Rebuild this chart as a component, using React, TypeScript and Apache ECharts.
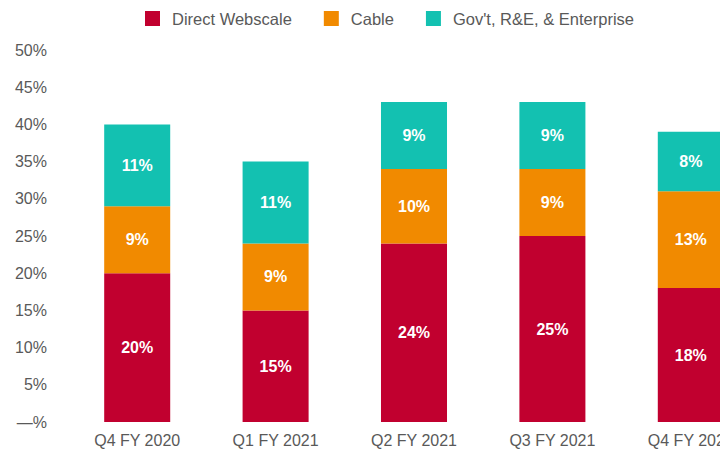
import React, { useEffect, useRef } from "react";
import * as echarts from "echarts";

const categories = ["Q4 FY 2020", "Q1 FY 2021", "Q2 FY 2021", "Q3 FY 2021", "Q4 FY 2021"];
const directWebscale = [20, 15, 24, 25, 18];
const cable = [9, 9, 10, 9, 13];
const govtEnterprise = [11, 11, 9, 9, 8];
const seriesNames = ["Direct Webscale", "Cable", "Gov't, R&E, & Enterprise"];
const colors = ["#C1002F", "#F18A00", "#13C1B1"];

export default function App() {
  const ref = useRef<HTMLDivElement>(null);
  useEffect(() => {
    if (!ref.current) return;
    const chart = echarts.init(ref.current, undefined, { renderer: "svg" });
    const font = "'Liberation Sans', Arial, sans-serif";
    const label = {
      show: true,
      position: "inside",
      color: "#ffffff",
      fontWeight: "bold",
      fontSize: 16,
      fontFamily: font,
      formatter: (p: any) => `${p.value}%`,
    };
    const data = [directWebscale, cable, govtEnterprise];
    chart.setOption({
      animation: false,
      textStyle: { fontFamily: font },
      legend: {
        left: 140,
        top: 5,
        itemWidth: 15,
        itemHeight: 15,
        itemGap: 32,
        icon: "rect",
        textStyle: { color: "#595959", fontSize: 16.5, fontFamily: font, padding: [0, 0, 0, 7] },
        data: seriesNames,
      },
      grid: { left: 68, width: 692, top: 50, bottom: 34, containLabel: false },
      xAxis: {
        type: "category",
        data: categories,
        axisLine: { show: false },
        axisTick: { show: false },
        axisLabel: { color: "#595959", fontSize: 16, margin: 10, fontFamily: font },
      },
      yAxis: {
        type: "value",
        min: 0,
        max: 50,
        interval: 5,
        splitLine: { show: false },
        axisLine: { show: false },
        axisTick: { show: false },
        axisLabel: {
          color: "#595959",
          fontSize: 16,
          margin: 21,
          fontFamily: font,
          formatter: (v: number) => (v === 0 ? "—%" : `${v}%`),
        },
      },
      series: seriesNames.map((name, i) => ({
        name,
        type: "bar",
        stack: "total",
        barWidth: "47.7%",
        itemStyle: { color: colors[i] },
        label,
        data: data[i],
      })),
    });
    return () => chart.dispose();
  }, []);
  return (
    <div style={{ position: "absolute", left: 0, top: 0, width: 720, height: 456, overflow: "hidden", background: "#fff" }}>
      <div ref={ref} style={{ width: 790, height: 456 }} />
    </div>
  );
}
